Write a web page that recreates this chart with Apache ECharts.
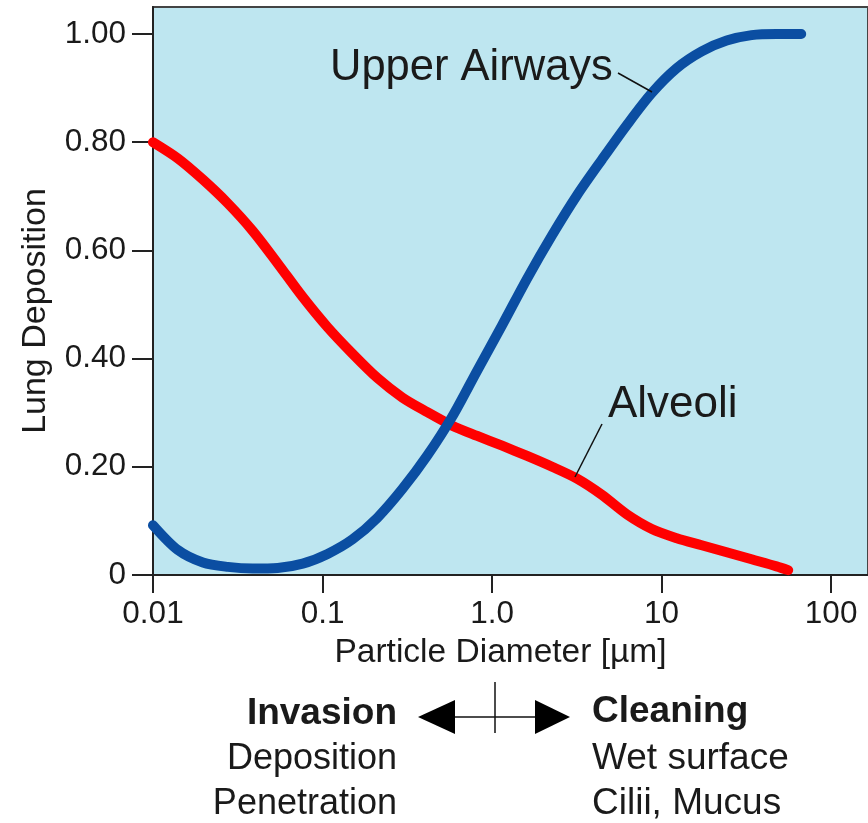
<!DOCTYPE html>
<html>
<head>
<meta charset="utf-8">
<script src="https://cdn.jsdelivr.net/npm/echarts@6/dist/echarts.min.js"></script>
<style>
html,body{margin:0;padding:0;background:#fff;}
#chart{width:868px;height:823px;}
</style>
</head>
<body>
<div id="chart"></div>
<script>
// Particle diameters (µm) and lung deposition fractions
const alveoliDiameter = [0.01, 0.01403, 0.01969, 0.02763, 0.03877, 0.0544, 0.07634, 0.1071, 0.1503, 0.2109, 0.2959, 0.4153, 0.5827, 0.8177, 1.147, 1.610, 2.259, 3.170, 4.448, 6.241, 8.758, 12.29, 17.24, 24.20, 33.95, 47.64, 55.8];
const alveoliDeposition = [0.800, 0.770, 0.731, 0.687, 0.636, 0.576, 0.514, 0.458, 0.409, 0.364, 0.328, 0.301, 0.276, 0.257, 0.239, 0.220, 0.200, 0.178, 0.148, 0.112, 0.085, 0.068, 0.055, 0.042, 0.029, 0.016, 0.009];

const upperDiameter = [0.01, 0.01403, 0.01969, 0.02763, 0.03877, 0.0544, 0.07634, 0.1071, 0.1503, 0.2109, 0.2959, 0.4153, 0.5827, 0.8177, 1.147, 1.610, 2.259, 3.170, 4.448, 6.241, 8.758, 12.29, 17.24, 24.20, 33.95, 47.64, 66.6];
const upperDeposition = [0.092, 0.046, 0.023, 0.015, 0.012, 0.013, 0.021, 0.039, 0.066, 0.106, 0.159, 0.221, 0.293, 0.378, 0.462, 0.548, 0.628, 0.702, 0.768, 0.832, 0.891, 0.937, 0.968, 0.988, 0.998, 1.0, 1.0];

const xTickValues = [0.01, 0.1, 1, 10, 100];
const xTickLabels = ['0.01', '0.1', '1.0', '10', '100'];
const yTickValues = [0, 0.2, 0.4, 0.6, 0.8, 1.0];
const yTickLabels = ['0', '0.20', '0.40', '0.60', '0.80', '1.00'];

const xAxisTitle = 'Particle Diameter [µm]';
const yAxisTitle = 'Lung Deposition';
const seriesNames = ['Alveoli', 'Upper Airways'];
const leftNotes = ['Invasion', 'Deposition', 'Penetration'];
const rightNotes = ['Cleaning', 'Wet surface', 'Cilii, Mucus'];

const FONT = '"Liberation Sans", Arial, Helvetica, sans-serif';
const TXT = '#1a1a1a';

function zip(a, b) { return a.map((v, i) => [v, b[i]]); }
function pick(values, labels, v) {
  let best = -1, bd = Infinity;
  values.forEach((t, i) => { const d = Math.abs(Math.log10(Math.max(t, 1e-9)) - Math.log10(Math.max(v, 1e-9))); if (d < bd) { bd = d; best = i; } });
  return bd < 0.01 ? labels[best] : '';
}

const chart = echarts.init(document.getElementById('chart'), null, {renderer: 'canvas'});

function txt(text, x, y, size, align, bold) {
  return {
    type: 'text', x: x, y: y, z: 100,
    style: {
      text: text, fill: TXT, fontSize: size, fontFamily: FONT,
      fontWeight: bold ? 'bold' : 'normal',
      align: align, textAlign: align, verticalAlign: 'middle', textVerticalAlign: 'middle'
    }
  };
}

chart.setOption({
  animation: false,
  backgroundColor: '#ffffff',
  grid: {
    left: 153, top: 7, right: -2, bottom: 248,
    show: true, backgroundColor: '#bee6f0', borderColor: '#444', borderWidth: 2
  },
  xAxis: {
    type: 'log', logBase: 10, min: 0.01, max: 165,
    name: xAxisTitle, nameLocation: 'middle', nameGap: 61,
    nameTextStyle: {fontSize: 33.5, fontFamily: FONT, color: TXT, padding: [0, 20, 0, 0]},
    axisLine: {show: true, lineStyle: {color: '#222', width: 2}},
    axisTick: {show: true, length: 18, lineStyle: {color: '#222', width: 2}, customValues: xTickValues},
    axisLabel: {
      show: true, margin: 23, fontSize: 31.5, fontFamily: FONT, color: TXT,
      customValues: xTickValues,
      formatter: v => pick(xTickValues, xTickLabels, v)
    },
    splitLine: {show: false}, minorTick: {show: false}, minorSplitLine: {show: false}
  },
  yAxis: {
    type: 'value', min: 0, max: 1.05,
    name: yAxisTitle, nameLocation: 'middle', nameGap: 100, nameRotate: 90,
    nameTextStyle: {fontSize: 34, fontFamily: FONT, color: TXT, padding: [0, 40, 0, 0]},
    axisLine: {show: true, lineStyle: {color: '#222', width: 2}},
    axisTick: {show: true, length: 21, lineStyle: {color: '#222', width: 2}, customValues: yTickValues},
    axisLabel: {
      show: true, margin: 27, fontSize: 31.5, fontFamily: FONT, color: TXT,
      customValues: yTickValues,
      formatter: v => { const i = yTickValues.findIndex(t => Math.abs(t - v) < 1e-6); return i >= 0 ? yTickLabels[i] : ''; }
    },
    splitLine: {show: false}
  },
  series: [
    {
      name: seriesNames[0], type: 'line', data: zip(alveoliDiameter, alveoliDeposition),
      smooth: 0.3, showSymbol: false, symbol: 'none',
      lineStyle: {color: '#ff0000', width: 10, cap: 'round', join: 'round'}
    },
    {
      name: seriesNames[1], type: 'line', data: zip(upperDiameter, upperDeposition),
      smooth: 0.3, showSymbol: false, symbol: 'none',
      lineStyle: {color: '#0b4ea2', width: 10, cap: 'round', join: 'round'}
    }
  ],
  graphic: [
    txt(seriesNames[1], 330, 68, 43.5, 'left', false),
    {type: 'line', z: 100, shape: {x1: 618, y1: 73, x2: 652, y2: 92}, style: {stroke: '#111', lineWidth: 1.5}},
    txt(seriesNames[0], 608, 405, 44, 'left', false),
    {type: 'line', z: 100, shape: {x1: 602, y1: 424, x2: 575, y2: 477}, style: {stroke: '#111', lineWidth: 1.5}},
    txt(leftNotes[0], 397, 714, 37, 'right', true),
    txt(leftNotes[1], 397, 759, 36, 'right', false),
    txt(leftNotes[2], 397, 804, 36, 'right', false),
    txt(rightNotes[0], 592, 712, 37, 'left', true),
    txt(rightNotes[1], 592, 759, 37, 'left', false),
    txt(rightNotes[2], 592, 804, 37, 'left', false),
    {type: 'line', z: 100, shape: {x1: 450, y1: 717, x2: 540, y2: 717}, style: {stroke: '#111', lineWidth: 1.5}},
    {type: 'line', z: 100, shape: {x1: 495, y1: 682, x2: 495, y2: 733}, style: {stroke: '#111', lineWidth: 1.5}},
    {type: 'polygon', z: 100, shape: {points: [[418, 717], [455, 700], [455, 734]]}, style: {fill: '#000'}},
    {type: 'polygon', z: 100, shape: {points: [[570, 717], [535, 700], [535, 734]]}, style: {fill: '#000'}}
  ]
});
</script>
</body>
</html>
